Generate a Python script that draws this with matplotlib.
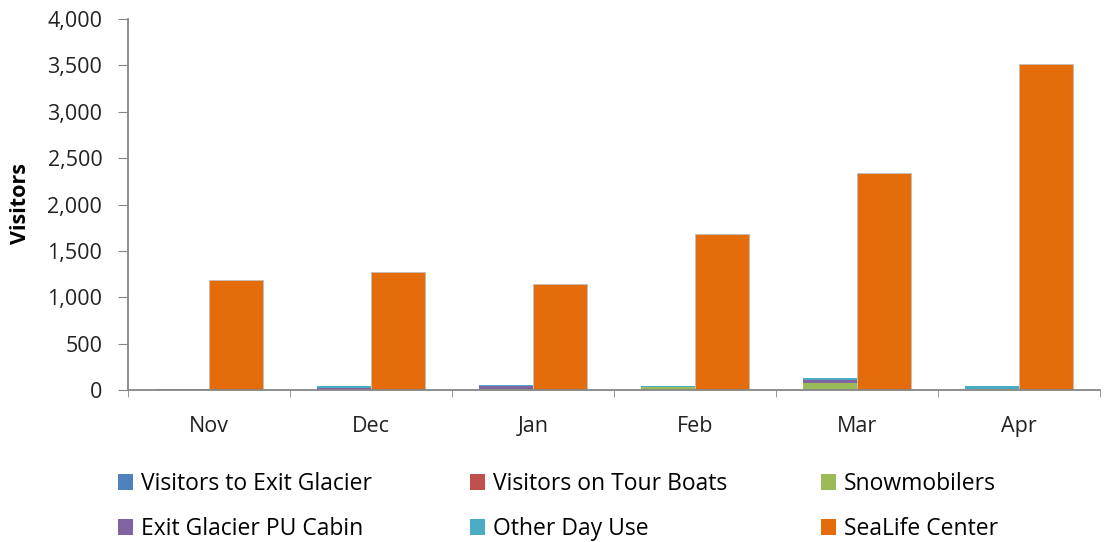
import matplotlib
matplotlib.use("Agg")
import matplotlib.pyplot as plt
from matplotlib.patches import Patch
from matplotlib.ticker import FuncFormatter, FixedLocator
import numpy as np

plt.rcParams['font.family'] = ['Open Sans', 'DejaVu Sans']

months = ["Nov", "Dec", "Jan", "Feb", "Mar", "Apr"]
exit_glacier = [5, 5, 5, 0, 0, 0]
tour_boats = [0, 0, 0, 0, 0, 0]
snowmobilers = [0, 0, 5, 35, 80, 10]
pu_cabin = [10, 13, 30, 0, 30, 0]
other_day_use = [0, 20, 15, 10, 15, 30]
sealife = [1185, 1270, 1145, 1680, 2340, 3520]

series = [
    ("Visitors to Exit Glacier", exit_glacier, "#4F81BD"),
    ("Visitors on Tour Boats", tour_boats, "#C0504D"),
    ("Snowmobilers", snowmobilers, "#9BBB59"),
    ("Exit Glacier PU Cabin", pu_cabin, "#8064A2"),
    ("Other Day Use", other_day_use, "#4BACC6"),
]
sealife_name, sealife_color = "SeaLife Center", "#E46C0A"

fig = plt.figure(figsize=(11.05, 5.42), dpi=100)
ax = fig.add_axes([128/1105, (542-390)/542, (1100-128)/1105, (390-19)/542])

x = np.arange(len(months))
w = 0.335
bottom = np.zeros(len(months))
for name, vals, col in series:
    v = np.array(vals, dtype=float)
    ax.bar(x - w/2, v, w, bottom=bottom, color=col, edgecolor="none")
    bottom += v
ax.bar(x + w/2, sealife, w, color=sealife_color, edgecolor="#BFBFBF", linewidth=0.6)

ax.set_xlim(-0.5, len(months) - 0.5)
ax.set_ylim(0, 4000)
ax.yaxis.set_major_locator(FixedLocator(np.arange(0, 4001, 500)))
ax.yaxis.set_major_formatter(FuncFormatter(lambda v, p: f"{int(v):,}"))
ax.set_xticks(x)
ax.set_xticklabels(months)
ax.xaxis.set_minor_locator(FixedLocator(np.arange(-0.5, len(months), 1.0)))
ax.tick_params(axis='x', which='major', length=0, pad=19, labelsize=15.5, colors="#222222")
ax.tick_params(axis='x', which='minor', length=5, color="#868686", direction='out')
ax.tick_params(axis='y', length=7.5, color="#868686", direction='out', labelsize=15.5, pad=11, colors="#222222")
for s in ["top", "right"]:
    ax.spines[s].set_visible(False)
for s in ["left", "bottom"]:
    ax.spines[s].set_color("#868686")
    ax.spines[s].set_linewidth(1.3)

fig.text(20/1105, (542-204)/542, "Visitors", rotation=90, fontsize=15.5, fontweight='bold',
         ha='center', va='center')

handles = [Patch(facecolor=c, edgecolor='none') for _, _, c in series] + \
          [Patch(facecolor=sealife_color, edgecolor='none')]
labels = [n for n, _, _ in series] + [sealife_name]
xs = [118/1105, 470/1105, 821/1105]
for i in range(3):
    fig.legend([handles[i], handles[i+3]], [labels[i], labels[i+3]],
               loc='upper left', bbox_to_anchor=(xs[i], (542-472)/542),
               bbox_transform=fig.transFigure, frameon=False, fontsize=16.5,
               handlelength=0.65, handleheight=0.65, handletextpad=0.35,
               labelspacing=0.92, borderaxespad=0, borderpad=0)

fig.savefig("out.png", dpi=100)
